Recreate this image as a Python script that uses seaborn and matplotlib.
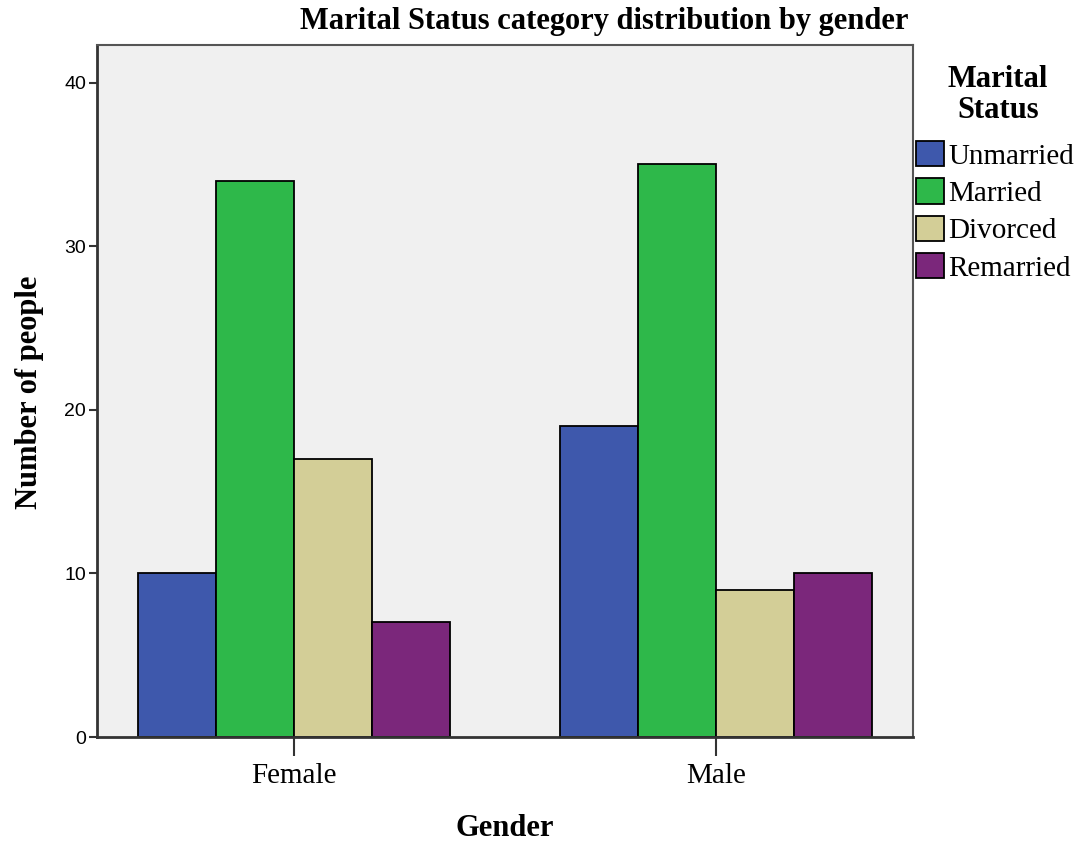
import pandas as pd
import seaborn as sns
import matplotlib.pyplot as plt

# 数据
genders = ['Female', 'Male']
statuses = ['Unmarried', 'Married', 'Divorced', 'Remarried']
female_counts = [10, 34, 17, 7]
male_counts = [19, 35, 9, 10]
colors = ['#3E58AC', '#2EB84A', '#D3CE97', '#7B277B']

df = pd.DataFrame({
    'Gender': ['Female'] * 4 + ['Male'] * 4,
    'Marital Status': statuses * 2,
    'Count': female_counts + male_counts,
})

sns.set_theme(style='white')
plt.rcParams['font.family'] = ['Liberation Serif', 'DejaVu Serif']
plt.rcParams['text.color'] = 'black'

fig = plt.figure(figsize=(10.83, 8.42), dpi=100)
ax = fig.add_axes([97 / 1083, 105 / 842, 816 / 1083, 692 / 842])
ax.set_facecolor('#F0F0F0')

sns.barplot(data=df, x='Gender', y='Count', hue='Marital Status',
            order=genders, hue_order=statuses, palette=colors, saturation=1,
            width=0.74, edgecolor='black', linewidth=1.3, ax=ax)

ax.set_xlim(-0.467, 1.467)
ax.set_ylim(0, 42.3)
ax.set_yticks([0, 10, 20, 30, 40])
ax.set_yticklabels(['0', '10', '20', '30', '40'], family='Liberation Sans', fontsize=14)
ax.set_xticks([0, 1])
ax.set_xticklabels(genders, fontsize=21)
ax.tick_params(axis='y', direction='out', length=6, width=1.5, color='#333333',
               labelcolor='black', left=True, pad=2)
ax.tick_params(axis='x', direction='out', length=14, width=1.5, color='#333333',
               labelcolor='black', bottom=True, pad=5)

for side in ['left', 'bottom']:
    ax.spines[side].set_color('#333333')
    ax.spines[side].set_linewidth(2)
for side in ['top', 'right']:
    ax.spines[side].set_color('#555555')
    ax.spines[side].set_linewidth(1.5)

ax.set_xlabel('')
ax.set_ylabel('')
fig.text(30 / 1083, 1 - 392 / 842, 'Number of people', rotation=90, ha='center', va='center',
         fontsize=22, fontweight='bold')
fig.text(505 / 1083, 1 - 828 / 842, 'Gender', ha='center', va='center',
         fontsize=22, fontweight='bold')
fig.text(604 / 1083, 1 - 22 / 842, 'Marital Status category distribution by gender',
         ha='center', va='center', fontsize=22, fontweight='bold')

# 图例标题单独画, 居中两行
fig.text(998 / 1083, 1 - 95 / 842, 'Marital\nStatus', ha='center', va='center',
         multialignment='center', fontsize=22, fontweight='bold', linespacing=1.1)

handles, labels = ax.get_legend_handles_labels()
ax.legend(handles, labels, loc='upper left',
          bbox_to_anchor=(916 / 1083, 1 - 141 / 842), bbox_transform=fig.transFigure,
          frameon=False, fontsize=21, handlelength=0.95, handleheight=0.95,
          handletextpad=0.15, labelspacing=0.3, borderaxespad=0, borderpad=0)

plt.savefig('out.png', dpi=100)
